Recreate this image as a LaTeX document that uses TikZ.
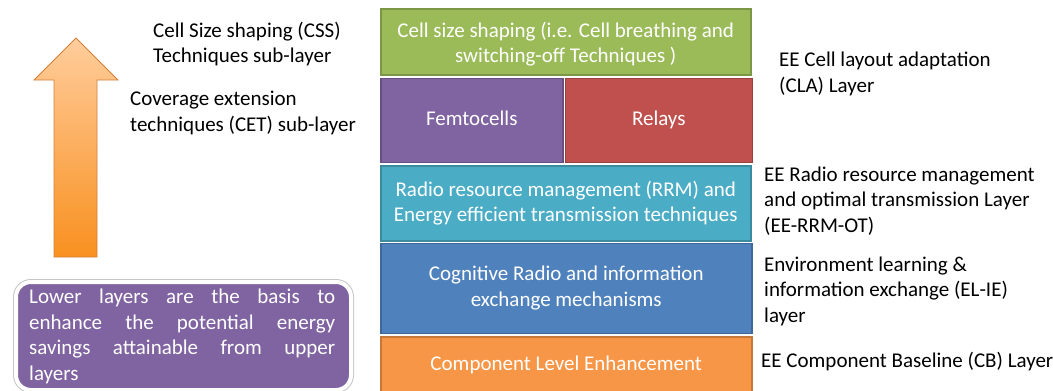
\documentclass[tikz,border=0pt]{standalone}
\usepackage{fontspec}
\setmainfont{Carlito}
\usetikzlibrary{positioning}
\definecolor{cssgreen}{HTML}{9BBB59}
\definecolor{femtopurple}{HTML}{8064A2}
\definecolor{relayred}{HTML}{C0504D}
\definecolor{rrmcyan}{HTML}{4BACC6}
\definecolor{cogblue}{HTML}{4F81BD}
\definecolor{comporange}{HTML}{F79646}
\definecolor{arrowtop}{HTML}{FFCD9C}
\definecolor{arrowbot}{HTML}{F8901F}

\begin{document}
\begin{tikzpicture}[x=1pt, y=-1pt, every node/.style={font=\fontsize{21}{25.5}\selectfont}]
  \tikzstyle{layer}=[draw, line width=1.5pt, anchor=north west, inner sep=0pt, align=center, text=white]
  \tikzstyle{note}=[anchor=west, inner sep=0pt, align=left]
  \useasboundingbox (0,0) rectangle (1053,391);
  % layer stack
  \node[layer, fill=cssgreen, draw=cssgreen!80!black, minimum width=370pt, minimum height=66pt] (cellsize) at (380,8) {\rule{0pt}{20pt}Cell size shaping (i.e. Cell breathing and\\switching-off Techniques )};
  \node[layer, fill=femtopurple, draw=femtopurple!80!black, minimum width=182pt, minimum height=84pt] (femto) at ([yshift=-2pt]cellsize.south west) {\strut Femtocells};
  \node[layer, fill=relayred, draw=relayred!80!black, minimum width=187pt, minimum height=84pt, right=1pt of femto.north east, anchor=north west] (relays) {\strut Relays};
  \node[layer, fill=rrmcyan, draw=rrmcyan!80!black, minimum width=370pt, minimum height=75pt] (rrm) at ([yshift=-2pt]femto.south west) {Radio resource management (RRM) and\\Energy efficient transmission techniques};
  \node[layer, fill=cogblue, draw=cogblue!80!black, minimum width=371pt, minimum height=90pt] (cognitive) at ([yshift=-1pt]rrm.south west) {Cognitive Radio and information\\exchange mechanisms};
  \node[layer, fill=comporange, draw=comporange!80!black, minimum width=371pt, minimum height=58pt] (component) at ([yshift=-2pt]cognitive.south west) {\strut Component Level Enhancement};
  % layer names
  \node[note] (clalabel) at (779,74) {EE Cell layout adaptation\\(CLA) Layer};
  \node[note] (rrmlabel) at (764,201) {EE Radio resource management\\and optimal transmission Layer\\(EE-RRM-OT)};
  \node[note] (ellabel) at (764,291) {Environment learning \&\\information exchange (EL-IE)\\layer};
  \node[note] (cblabel) at (761,362) {EE Component Baseline (CB) Layer};
  % sub-layers
  \node[note] (csslabel) at (153,44) {Cell Size shaping (CSS)\\Techniques sub-layer};
  \node[note] (cetlabel) at (130,113) {Coverage extension\\techniques (CET) sub-layer};
  % upward arrow
  \draw[draw=comporange!85!black, line width=0.8pt, top color=arrowtop, bottom color=arrowbot]
    (54,257) -- (54,80) -- (34,80) -- (76,38) -- (118,80) -- (97,80) -- (97,257) -- cycle;
  % basis note
  \node[anchor=north west, inner sep=0pt, minimum width=335pt, minimum height=108pt, rounded corners=15pt,
        fill=femtopurple, draw=white, line width=4pt, preaction={draw=gray!45, line width=6pt}] (basis) at (14,280) {};
  \node[anchor=north west, inner sep=0pt, align=left, text=white, text width=306pt] (basistext) at ([xshift=15pt, yshift=-9pt]basis.north west)
    {\makebox[306pt]{Lower\hfill layers\hfill are\hfill the\hfill basis\hfill to}\\
     \makebox[306pt]{enhance\hfill the\hfill potential\hfill energy}\\
     \makebox[306pt]{savings\hfill attainable\hfill from\hfill upper}\\
     layers};
\end{tikzpicture}
\end{document}
